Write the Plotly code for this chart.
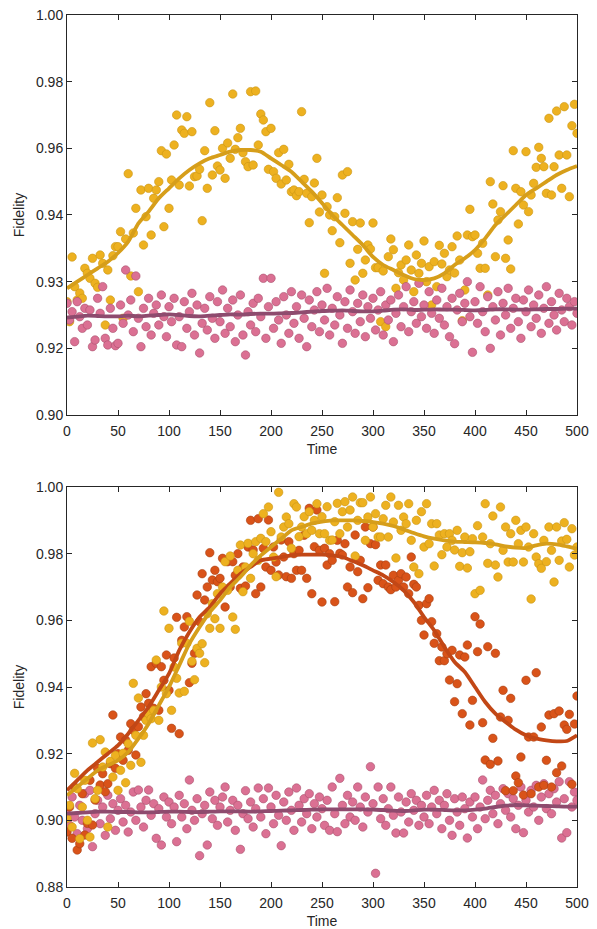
import plotly.graph_objects as go

# ---------------- data ----------------
t_pts = [i * 2.5 for i in range(201)]          # sample times 0..500
t_line = [i * 10 for i in range(51)]           # smoothed-curve times

# Top panel: scatter samples
top_yellow = [
    0.9140, 0.9080, 0.9274, 0.9185, 0.9145, 0.9166, 0.9150, 0.9240, 0.9225, 0.9210,
    0.9270, 0.9195, 0.9183, 0.9280, 0.9255, 0.9070, 0.9235, 0.9145, 0.9278, 0.9305,
    0.9305, 0.9350, 0.9090, 0.9328, 0.9524, 0.9217, 0.9346, 0.9420, 0.9170, 0.9475,
    0.9310, 0.9395, 0.9480, 0.9340, 0.9450, 0.9475, 0.9500, 0.9593, 0.9365, 0.9583,
    0.9420, 0.9505, 0.9610, 0.9700, 0.9490, 0.9655, 0.9645, 0.9695, 0.9487, 0.9650,
    0.9515, 0.9517, 0.9537, 0.9383, 0.9593, 0.9480, 0.9737, 0.9520, 0.9653, 0.9547,
    0.9535, 0.9600, 0.9510, 0.9616, 0.9570, 0.9763, 0.9597, 0.9632, 0.9660, 0.9587,
    0.9560, 0.9545, 0.9770, 0.9550, 0.9772, 0.9610, 0.9703, 0.9685, 0.9650, 0.9537,
    0.9660, 0.9530, 0.9510, 0.9587, 0.9493, 0.9597, 0.9505, 0.9552, 0.9470, 0.9475,
    0.9458, 0.9470, 0.9710, 0.9507, 0.9465, 0.9377, 0.9455, 0.9496, 0.9570, 0.9409,
    0.9460, 0.9225, 0.9425, 0.9400, 0.9353, 0.9395, 0.9452, 0.9317, 0.9520, 0.9405,
    0.9530, 0.9255, 0.9380, 0.9205, 0.9297, 0.9376, 0.9225, 0.9265, 0.9310, 0.9298,
    0.9376, 0.9242, 0.9242, 0.9080, 0.9232, 0.9065, 0.9275, 0.9328, 0.9296, 0.9180,
    0.9227, 0.9250, 0.9205, 0.9265, 0.9310, 0.9235, 0.9170, 0.9280, 0.9225, 0.9255,
    0.9322, 0.9200, 0.9245, 0.9130, 0.9260, 0.9185, 0.9309, 0.9253, 0.9285, 0.9215,
    0.9235, 0.9305, 0.9226, 0.9337, 0.9265, 0.9083, 0.9175, 0.9340, 0.9417, 0.9335,
    0.9340, 0.9285, 0.9240, 0.9315, 0.9240, 0.9160, 0.9500, 0.9433, 0.9275, 0.9385,
    0.9410, 0.9488, 0.9270, 0.9325, 0.9238, 0.9593, 0.9480, 0.9373, 0.9470, 0.9430,
    0.9590, 0.9410, 0.9460, 0.9495, 0.9543, 0.9603, 0.9570, 0.9545, 0.9465, 0.9690,
    0.9460, 0.9545, 0.9712, 0.9580, 0.9480, 0.9725, 0.9580, 0.9455, 0.9668, 0.9732,
    0.9645,
]
top_pink = [
    0.9135, 0.9085, 0.9110, 0.9020, 0.9140, 0.9095, 0.9060, 0.9120, 0.9070, 0.9115,
    0.9005, 0.9025, 0.9150, 0.9105, 0.9185, 0.9030, 0.9010, 0.9120, 0.9060, 0.9008,
    0.9015, 0.9130, 0.9075, 0.9235, 0.9100, 0.9145, 0.9050, 0.9217, 0.9090, 0.9005,
    0.9120, 0.9065, 0.9150, 0.9040, 0.9105, 0.9130, 0.9070, 0.9160, 0.9095, 0.9035,
    0.9125, 0.9080, 0.9150, 0.9010, 0.9095, 0.9005, 0.9140, 0.9060, 0.9110, 0.9165,
    0.9040, 0.9130, 0.8986, 0.9075, 0.9120, 0.9055, 0.9155, 0.9090, 0.9030, 0.9140,
    0.9080, 0.9175, 0.9045, 0.9120, 0.9065, 0.9145, 0.9020, 0.9100, 0.9160, 0.9040,
    0.8980, 0.9110, 0.9070, 0.9135, 0.9050, 0.9150, 0.9095, 0.9210, 0.9030, 0.9125,
    0.9210, 0.9060, 0.9140, 0.9085, 0.9015, 0.9155, 0.9100, 0.9045, 0.9170, 0.9075,
    0.9125, 0.9030, 0.9160, 0.9090, 0.9005, 0.9145, 0.9065, 0.9115, 0.9170, 0.9050,
    0.9130, 0.9085, 0.9180, 0.9040, 0.9120, 0.9070, 0.9155, 0.9100, 0.9015, 0.9140,
    0.9060, 0.9175, 0.9110, 0.9045, 0.9135, 0.9080, 0.9160, 0.9035, 0.9125, 0.9090,
    0.9150, 0.9055, 0.9115, 0.9170, 0.9040, 0.9130, 0.9085, 0.9145, 0.9020, 0.9105,
    0.9160, 0.9065, 0.9125, 0.9185, 0.9050, 0.9110, 0.9140, 0.9075, 0.9195, 0.9095,
    0.9130, 0.9060, 0.9170, 0.9105, 0.9045, 0.9145, 0.9090, 0.9180, 0.9070, 0.9125,
    0.9035, 0.9150, 0.9014, 0.9115, 0.9165, 0.9080, 0.9135, 0.9200, 0.9095, 0.8988,
    0.9140, 0.9075, 0.9185, 0.9110, 0.9050, 0.9155, 0.9000, 0.9125, 0.9085, 0.9170,
    0.9040, 0.9135, 0.9100, 0.9180, 0.9060, 0.9120, 0.9150, 0.9080, 0.9030, 0.9145,
    0.9110, 0.9175, 0.9065, 0.9130, 0.9090, 0.9160, 0.9045, 0.9120, 0.9185, 0.9075,
    0.9140, 0.9100, 0.9055, 0.9165, 0.9115, 0.9080, 0.9150, 0.9125, 0.9070, 0.9140,
    0.9105,
]
# Top panel: smoothed curves
top_yellow_fit = [
    0.9180, 0.9200, 0.9220, 0.9240, 0.9260, 0.9286, 0.9320, 0.9375, 0.9410, 0.9450,
    0.9480, 0.9510, 0.9535, 0.9555, 0.9570, 0.9580, 0.9590, 0.9595, 0.9595, 0.9590,
    0.9570, 0.9550, 0.9530, 0.9500, 0.9470, 0.9436, 0.9400, 0.9370, 0.9340, 0.9310,
    0.9274, 0.9250, 0.9235, 0.9220, 0.9208, 0.9205, 0.9210, 0.9225, 0.9250, 0.9270,
    0.9295, 0.9330, 0.9370, 0.9400, 0.9430, 0.9460, 0.9480, 0.9500, 0.9520, 0.9535,
    0.9547,
]
top_pink_fit = [
    0.9092, 0.9095, 0.9098, 0.9097, 0.9096, 0.9096, 0.9098, 0.9096, 0.9098, 0.9100,
    0.9102, 0.9100, 0.9097, 0.9096, 0.9098, 0.9100, 0.9102, 0.9101, 0.9103, 0.9104,
    0.9104, 0.9105, 0.9106, 0.9108, 0.9110, 0.9112, 0.9113, 0.9114, 0.9112, 0.9111,
    0.9111, 0.9113, 0.9116, 0.9117, 0.9115, 0.9116, 0.9117, 0.9116, 0.9116, 0.9115,
    0.9114, 0.9115, 0.9117, 0.9117, 0.9116, 0.9116, 0.9117, 0.9118, 0.9118, 0.9119,
    0.9119,
]

# Bottom panel: scatter samples
bot_yellow = [
    0.9006, 0.9045, 0.8980, 0.9141, 0.9095, 0.8945, 0.9040, 0.9120, 0.9000, 0.8950,
    0.9232, 0.9065, 0.9090, 0.9242, 0.9160, 0.9205, 0.8980, 0.9177, 0.9130, 0.9195,
    0.9090, 0.9150, 0.9201, 0.9113, 0.9230, 0.9165, 0.9411, 0.9255, 0.9367, 0.9174,
    0.9255, 0.9300, 0.9320, 0.9305, 0.9330, 0.9481, 0.9300, 0.9400, 0.9628, 0.9380,
    0.9576, 0.9330, 0.9460, 0.9426, 0.9382, 0.9531, 0.9387, 0.9531, 0.9597, 0.9477,
    0.9422, 0.9516, 0.9501, 0.9530, 0.9473, 0.9620, 0.9576, 0.9650, 0.9605, 0.9680,
    0.9576, 0.9700, 0.9776, 0.9690, 0.9793, 0.9610, 0.9573, 0.9750, 0.9826, 0.9686,
    0.9760, 0.9831, 0.9726, 0.9800, 0.9836, 0.9780, 0.9846, 0.9920, 0.9836, 0.9940,
    0.9866, 0.9790, 0.9731, 0.9984, 0.9850, 0.9880, 0.9910, 0.9890, 0.9816, 0.9950,
    0.9940, 0.9851, 0.9880, 0.9911, 0.9860, 0.9926, 0.9870, 0.9900, 0.9950, 0.9860,
    0.9911, 0.9860, 0.9941, 0.9840, 0.9841, 0.9896, 0.9951, 0.9860, 0.9926, 0.9956,
    0.9880, 0.9931, 0.9970, 0.9793, 0.9900, 0.9953, 0.9953, 0.9840, 0.9910, 0.9970,
    0.9880, 0.9920, 0.9850, 0.9850, 0.9905, 0.9945, 0.9850, 0.9970, 0.9895, 0.9787,
    0.9945, 0.9870, 0.9910, 0.9890, 0.9950, 0.9840, 0.9760, 0.9900, 0.9740, 0.9926,
    0.9820, 0.9950, 0.9830, 0.9890, 0.9763, 0.9890, 0.9856, 0.9797, 0.9860, 0.9820,
    0.9860, 0.9840, 0.9811, 0.9870, 0.9762, 0.9803, 0.9850, 0.9757, 0.9806, 0.9845,
    0.9680, 0.9884, 0.9690, 0.9850, 0.9950, 0.9771, 0.9830, 0.9913, 0.9766, 0.9730,
    0.9940, 0.9810, 0.9880, 0.9775, 0.9860, 0.9775, 0.9900, 0.9830, 0.9870, 0.9775,
    0.9880, 0.9820, 0.9664, 0.9860, 0.9790, 0.9770, 0.9756, 0.9840, 0.9776, 0.9880,
    0.9810, 0.9715, 0.9880, 0.9780, 0.9838, 0.9893, 0.9843, 0.9760, 0.9875, 0.9796,
    0.9820,
]
bot_orange = [
    0.8965, 0.9040, 0.8946, 0.9100, 0.8911, 0.8930, 0.9080, 0.8956, 0.8991, 0.9120,
    0.8986, 0.9061, 0.9156, 0.9106, 0.9140, 0.9086, 0.9110, 0.9170, 0.9316, 0.9156,
    0.9200, 0.9250, 0.9180, 0.9241, 0.9210, 0.9290, 0.9270, 0.9196, 0.9281, 0.9340,
    0.9311, 0.9380, 0.9351, 0.9461, 0.9336, 0.9471, 0.9330, 0.9461, 0.9420, 0.9496,
    0.9390, 0.9276, 0.9487, 0.9609, 0.9260, 0.9540, 0.9580, 0.9611, 0.9413, 0.9471,
    0.9501, 0.9676, 0.9596, 0.9740, 0.9661, 0.9700, 0.9803, 0.9721, 0.9750, 0.9716,
    0.9726, 0.9786, 0.9640, 0.9776, 0.9700, 0.9776, 0.9735, 0.9800, 0.9696, 0.9760,
    0.9703, 0.9820, 0.9900, 0.9811, 0.9680, 0.9905, 0.9700, 0.9816, 0.9760, 0.9901,
    0.9750, 0.9820, 0.9775, 0.9736, 0.9841, 0.9790, 0.9731, 0.9836, 0.9726, 0.9800,
    0.9750, 0.9810, 0.9750, 0.9855, 0.9726, 0.9936, 0.9680, 0.9821, 0.9931, 0.9810,
    0.9655, 0.9816, 0.9766, 0.9800, 0.9780, 0.9656, 0.9840, 0.9801, 0.9796, 0.9830,
    0.9700, 0.9760, 0.9683, 0.9856, 0.9746, 0.9780, 0.9665, 0.9880, 0.9698, 0.9830,
    0.9880, 0.9827, 0.9720, 0.9766, 0.9710, 0.9766, 0.9700, 0.9692, 0.9735, 0.9700,
    0.9720, 0.9740, 0.9700, 0.9730, 0.9680, 0.9790, 0.9708, 0.9700, 0.9645, 0.9600,
    0.9556, 0.9650, 0.9665, 0.9596, 0.9531, 0.9560, 0.9479, 0.9520, 0.9479, 0.9500,
    0.9421, 0.9510, 0.9356, 0.9410, 0.9496, 0.9320, 0.9490, 0.9526, 0.9286, 0.9360,
    0.9611, 0.9506, 0.9589, 0.9293, 0.9181, 0.9521, 0.9168, 0.9246, 0.9501, 0.9178,
    0.9310, 0.9390, 0.9089, 0.9300, 0.9366, 0.9089, 0.9133, 0.9113, 0.9190, 0.9076,
    0.9420, 0.9250, 0.9080, 0.9250, 0.9443, 0.9100, 0.9280, 0.9105, 0.9180, 0.9316,
    0.9100, 0.9320, 0.9143, 0.9328, 0.9163, 0.9286, 0.9273, 0.9318, 0.9108, 0.9289,
    0.9373,
]
bot_pink = [
    0.9035, 0.8985, 0.9070, 0.9010, 0.8960, 0.9045, 0.9000, 0.9080, 0.8975, 0.9090,
    0.8921, 0.9020, 0.9060, 0.8990, 0.9040, 0.8955, 0.9075, 0.9005, 0.9050, 0.8970,
    0.9030, 0.9065, 0.8995, 0.9045, 0.8965, 0.9025, 0.9085, 0.9000, 0.9091, 0.9040,
    0.8980, 0.9060, 0.9091, 0.9015, 0.9050, 0.8946, 0.9035, 0.8926, 0.9070, 0.9010,
    0.9055, 0.8990, 0.9040, 0.8936, 0.9075, 0.9010, 0.9050, 0.8975, 0.9121, 0.9030,
    0.9000, 0.9065, 0.8894, 0.9020, 0.9045, 0.8926, 0.9085, 0.9005, 0.9060, 0.8985,
    0.9040, 0.9070, 0.9100, 0.8995, 0.9030, 0.9060, 0.8970, 0.9045, 0.8913, 0.9020,
    0.9089, 0.9005, 0.9055, 0.8980, 0.9035, 0.9097, 0.9010, 0.9065, 0.8960, 0.9097,
    0.9040, 0.8990, 0.9075, 0.9015, 0.8924, 0.9055, 0.9000, 0.9085, 0.9030, 0.8970,
    0.9097, 0.9045, 0.8995, 0.9065, 0.9020, 0.9080, 0.8975, 0.9050, 0.9010, 0.9070,
    0.9035, 0.8985, 0.9060, 0.8970, 0.9100, 0.9020, 0.8966, 0.9126, 0.9045, 0.8990,
    0.9075, 0.9010, 0.9055, 0.9000, 0.9100, 0.9040, 0.8980, 0.9070, 0.9025, 0.9161,
    0.9050, 0.8841, 0.9100, 0.9005, 0.9065, 0.8985, 0.9035, 0.9100, 0.9015, 0.8962,
    0.9070, 0.9025, 0.8962, 0.9055, 0.8995, 0.9080, 0.9030, 0.9060, 0.8985, 0.9045,
    0.9010, 0.9075, 0.8990, 0.9040, 0.9090, 0.9020, 0.9060, 0.8975, 0.9045, 0.9080,
    0.9000, 0.8955, 0.9065, 0.9025, 0.8985, 0.9070, 0.9035, 0.8947, 0.9055, 0.9010,
    0.9070, 0.8975, 0.9040, 0.9121, 0.9005, 0.9060, 0.9090, 0.9020, 0.9075, 0.8990,
    0.9050, 0.9095, 0.9030, 0.9080, 0.9010, 0.9065, 0.8975, 0.9045, 0.9100, 0.8963,
    0.9060, 0.9025, 0.9090, 0.9040, 0.9105, 0.9000, 0.9070, 0.9110, 0.9035, 0.9080,
    0.9020, 0.9095, 0.9055, 0.9116, 0.8947, 0.9065, 0.8963, 0.9116, 0.9040, 0.9085,
    0.9060,
]
# Bottom panel: smoothed curves
bot_yellow_fit = [
    0.9075, 0.9100, 0.9125, 0.9150, 0.9165, 0.9180, 0.9205, 0.9245, 0.9290, 0.9345,
    0.9400, 0.9465, 0.9530, 0.9580, 0.9625, 0.9660, 0.9700, 0.9730, 0.9765, 0.9795,
    0.9820, 0.9845, 0.9870, 0.9880, 0.9890, 0.9896, 0.9900, 0.9900, 0.9900, 0.9898,
    0.9895, 0.9890, 0.9883, 0.9873, 0.9862, 0.9852, 0.9845, 0.9840, 0.9836, 0.9835,
    0.9834, 0.9832, 0.9828, 0.9822, 0.9818, 0.9817, 0.9825, 0.9830, 0.9828, 0.9822,
    0.9815,
]
bot_orange_fit = [
    0.9090, 0.9120, 0.9150, 0.9175, 0.9200, 0.9225, 0.9260, 0.9300, 0.9340, 0.9390,
    0.9440, 0.9510, 0.9565, 0.9610, 0.9640, 0.9680, 0.9710, 0.9740, 0.9760, 0.9780,
    0.9785, 0.9790, 0.9795, 0.9797, 0.9797, 0.9797, 0.9795, 0.9790, 0.9778, 0.9765,
    0.9750, 0.9735, 0.9715, 0.9690, 0.9655, 0.9610, 0.9570, 0.9520, 0.9475, 0.9445,
    0.9400, 0.9355, 0.9320, 0.9295, 0.9272, 0.9255, 0.9245, 0.9240, 0.9237, 0.9238,
    0.9255,
]
bot_pink_fit = [
    0.9020, 0.9022, 0.9024, 0.9026, 0.9026, 0.9025, 0.9025, 0.9024, 0.9024, 0.9025,
    0.9026, 0.9026, 0.9025, 0.9025, 0.9026, 0.9027, 0.9027, 0.9027, 0.9026, 0.9027,
    0.9028, 0.9029, 0.9030, 0.9031, 0.9032, 0.9033, 0.9033, 0.9033, 0.9033, 0.9033,
    0.9032, 0.9031, 0.9029, 0.9028, 0.9030, 0.9032, 0.9032, 0.9031, 0.9030, 0.9030,
    0.9032, 0.9035, 0.9040, 0.9044, 0.9046, 0.9045, 0.9044, 0.9043, 0.9042, 0.9041,
    0.9041,
]

x_ticks = [0, 50, 100, 150, 200, 250, 300, 350, 400, 450, 500]
y_tickvals = [0.88, 0.90, 0.92, 0.94, 0.96, 0.98, 1.00]
top_ticktext = ["0.90", "0.92", "0.93", "0.94", "0.96", "0.98", "1.00"]
bot_ticktext = ["0.88", "0.90", "0.92", "0.94", "0.96", "0.98", "1.00"]

# ---------------- styles ----------------
YEL, YEL_EDGE, YEL_LINE = "#EDB120", "#C99514", "#D69E1A"
ORA, ORA_EDGE, ORA_LINE = "#D95319", "#A83F12", "#C24716"
PNK, PNK_EDGE, PNK_LINE = "#DB7093", "#A9506D", "#8E4B6E"
MS = 8.5


def pts(x, y, fill, edge, xa, ya):
    return go.Scatter(x=x, y=y, mode="markers", xaxis=xa, yaxis=ya, showlegend=False,
                      marker=dict(size=MS, color=fill, line=dict(color=edge, width=0.6)),
                      hoverinfo="skip")


def curve(x, y, color, xa, ya):
    return go.Scatter(x=x, y=y, mode="lines", xaxis=xa, yaxis=ya, showlegend=False,
                      line=dict(color=color, width=3.8, shape="spline", smoothing=0.6),
                      hoverinfo="skip")


fig = go.Figure()
# top panel
fig.add_trace(pts(t_pts, top_yellow, YEL, YEL_EDGE, "x", "y"))
fig.add_trace(pts(t_pts, top_pink, PNK, PNK_EDGE, "x", "y"))
fig.add_trace(curve(t_line, top_yellow_fit, YEL_LINE, "x", "y"))
fig.add_trace(curve(t_line, top_pink_fit, PNK_LINE, "x", "y"))
# bottom panel
fig.add_trace(pts(t_pts, bot_pink, PNK, PNK_EDGE, "x2", "y2"))
fig.add_trace(pts(t_pts, bot_orange, ORA, ORA_EDGE, "x2", "y2"))
fig.add_trace(pts(t_pts, bot_yellow, YEL, YEL_EDGE, "x2", "y2"))
fig.add_trace(curve(t_line, bot_pink_fit, PNK_LINE, "x2", "y2"))
fig.add_trace(curve(t_line, bot_orange_fit, ORA_LINE, "x2", "y2"))
fig.add_trace(curve(t_line, bot_yellow_fit, YEL_LINE, "x2", "y2"))

FONT = "Liberation Sans, Arial, sans-serif"
axis_common = dict(showline=True, linecolor="#262626", linewidth=1, mirror="ticks",
                   ticks="inside", ticklen=5, tickcolor="#262626", tickwidth=1,
                   showgrid=False, zeroline=False, automargin=False,
                   tickfont=dict(family=FONT, size=14, color="#262626"),
                   title_font=dict(family=FONT, size=14, color="#262626"))
x_common = dict(axis_common, ticklabelstandoff=3)

fig.update_layout(
    width=597, height=929,
    margin=dict(l=67, r=20, t=15, b=42, autoexpand=False),
    paper_bgcolor="white", plot_bgcolor="white",
    xaxis=dict(domain=[0, 1], anchor="y", range=[0, 500], tickvals=x_ticks,
               title=dict(text="Time", standoff=6), **x_common),
    yaxis=dict(domain=[0.5413, 1.0], anchor="x", range=[0.88, 1.00],
               tickvals=y_tickvals, ticktext=top_ticktext,
               title=dict(text="Fidelity", standoff=8), **axis_common),
    xaxis2=dict(domain=[0, 1], anchor="y2", range=[0, 500], tickvals=x_ticks,
                title=dict(text="Time", standoff=6), **x_common),
    yaxis2=dict(domain=[0.0, 0.4587], anchor="x2", range=[0.88, 1.00],
                tickvals=y_tickvals, ticktext=bot_ticktext,
                title=dict(text="Fidelity", standoff=8), **axis_common),
)

# remove the default page margin so the figure sits at the window's top-left corner
fig.write_html("out.html", config={"displayModeBar": False},
               post_script="document.body.style.margin='0';document.body.style.overflow='hidden';")
